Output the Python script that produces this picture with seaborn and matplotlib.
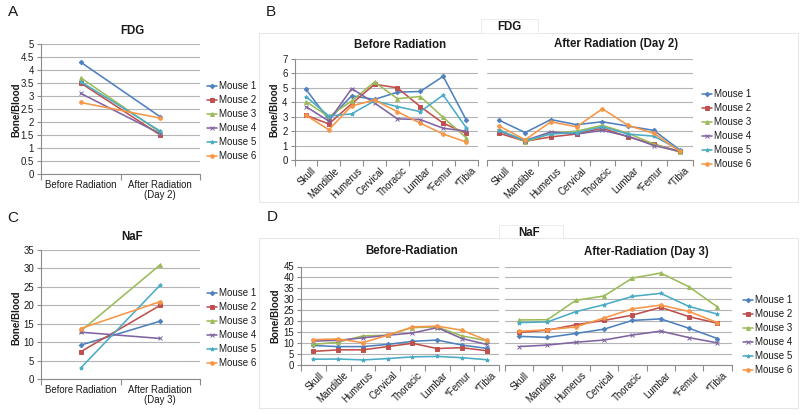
import matplotlib
matplotlib.use("Agg")
import matplotlib.pyplot as plt
import matplotlib.transforms as mtransforms
import seaborn as sns
import pandas as pd
import numpy as np
from matplotlib.lines import Line2D
from matplotlib.patches import Rectangle
from matplotlib.ticker import FuncFormatter, MultipleLocator

# ---------------- data ----------------
mice = ["Mouse 1", "Mouse 2", "Mouse 3", "Mouse 4", "Mouse 5", "Mouse 6"]

fdg_times = ["Before Radiation", "After Radiation\n(Day 2)"]
fdg_before = [4.3, 3.5, 3.7, 3.1, 3.55, 2.75]
fdg_after = [2.2, 1.5, 1.6, 1.55, 1.65, 2.15]

naf_times = ["Before Radiation", "After Radiation\n(Day 3)"]
naf_before = [9.2, 7.4, 13.0, 12.7, 3.0, 13.7]
naf_after = [15.7, 20.0, 31.0, 11.0, 25.5, 21.0]

bones = ["Skull", "Mandible", "Humerus", "Cervical", "Thoracic", "Lumbar", "*Femur", "*Tibia"]

# rows = mice, columns = bones
fdg_bone_before = [
    [4.9, 2.8, 4.45, 4.2, 4.7, 4.75, 5.8, 2.8],
    [3.1, 2.5, 3.9, 5.25, 5.0, 3.7, 2.55, 1.85],
    [4.05, 3.0, 4.1, 5.4, 4.25, 4.4, 2.95, 1.55],
    [3.7, 2.7, 4.95, 3.95, 2.85, 2.8, 2.2, 2.0],
    [4.4, 3.05, 3.2, 4.1, 3.7, 3.35, 4.5, 2.25],
    [3.1, 2.1, 3.75, 4.15, 3.35, 2.55, 1.8, 1.25],
]
fdg_bone_after = [
    [2.75, 1.9, 2.8, 2.45, 2.65, 2.35, 2.05, 0.7],
    [1.85, 1.3, 1.6, 1.8, 2.2, 1.6, 1.1, 0.6],
    [2.1, 1.25, 1.85, 2.0, 2.4, 1.85, 1.1, 0.55],
    [2.0, 1.35, 1.95, 1.8, 2.05, 1.65, 1.0, 0.6],
    [2.05, 1.35, 1.8, 1.9, 2.3, 1.8, 1.65, 0.7],
    [2.35, 1.4, 2.65, 2.3, 3.55, 2.4, 1.85, 0.6],
]
naf_bone_before = [
    [8.8, 8.3, 8.3, 9.3, 10.7, 11.3, 9.0, 7.5],
    [6.1, 6.8, 6.8, 8.3, 9.8, 7.4, 7.8, 6.4],
    [9.3, 10.3, 13.2, 13.5, 17.0, 17.3, 13.2, 11.0],
    [10.8, 11.2, 12.3, 13.5, 14.5, 17.0, 12.0, 9.3],
    [2.5, 2.6, 2.2, 2.8, 3.6, 3.8, 3.2, 2.3],
    [11.5, 11.8, 10.1, 13.5, 17.3, 17.7, 15.8, 11.2],
]
naf_bone_after = [
    [13.0, 12.5, 14.3, 16.3, 20.3, 21.0, 16.7, 12.0],
    [14.8, 15.8, 18.3, 20.3, 22.7, 26.3, 22.0, 19.0],
    [20.5, 20.6, 29.5, 31.5, 39.7, 42.0, 35.7, 26.5],
    [8.3, 9.0, 10.3, 11.3, 13.6, 15.4, 12.4, 10.0],
    [19.3, 19.6, 24.3, 27.5, 31.3, 32.7, 26.7, 23.2],
    [15.3, 16.0, 17.3, 21.4, 25.6, 27.3, 24.4, 19.3],
]

# ---------------- style ----------------
colors = ["#4F81BD", "#C0504D", "#9BBB59", "#8064A2", "#4BACC6", "#F79646"]
marks = ["D", "s", "^", "x", "*", "o"]
msizes = [2.3, 2.6, 2.8, 2.4, 2.8, 2.6]
pal = dict(zip(mice, colors))

sns.set_theme(style="white")
plt.rcParams["font.family"] = ["Liberation Sans", "DejaVu Sans"]

W, H = 800, 415
fig = plt.figure(figsize=(8, 4.15), dpi=100)
fig.patch.set_facecolor("white")

GRID = "#b4b4b4"
SPINE = "#8c8c8c"
TXT = "#1a1a1a"
TICKFS = 6.9


def fx(x):
    return x / W


def fy(y):
    return 1 - y / H


def add_ax(x0, y0, x1, y1):
    return fig.add_axes([fx(x0), fy(y1), (x1 - x0) / W, (y1 - y0) / H])


def long_df(cats, cols):
    # cols: one list per category, each list over mice
    recs = []
    for ci, c in enumerate(cats):
        for m, v in zip(mice, cols[ci]):
            recs.append((m, c, ci, v))
    return pd.DataFrame(recs, columns=["mouse", "cat", "pos", "value"])


def draw(ax, cats, df, ymax, ystep, ylabels=True, rotate=False):
    sns.lineplot(data=df, x="pos", y="value", hue="mouse", hue_order=mice,
                 palette=pal, sort=False, ax=ax, legend=False,
                 linewidth=1.15, marker="o")
    for ln, m, ms in zip(ax.lines, marks, msizes):
        ln.set_marker(m)
        ln.set_markeredgecolor(ln.get_color())
        ln.set_markerfacecolor(ln.get_color())
        ln.set_markeredgewidth(0.7)
        ln.set_markersize(ms)
    n = len(cats)
    ax.set_xlim(-0.5, n - 0.5)
    ax.set_ylim(0, ymax)
    ax.set_xlabel("")
    ax.set_ylabel("")
    ax.set_facecolor("none")
    for s in ["top", "right"]:
        ax.spines[s].set_visible(False)
    for s in ["left", "bottom"]:
        ax.spines[s].set_color(SPINE)
        ax.spines[s].set_linewidth(0.8)
    ax.yaxis.set_major_locator(MultipleLocator(ystep))
    ax.yaxis.set_major_formatter(FuncFormatter(lambda v, p: "%g" % v))
    ax.yaxis.grid(True, color=GRID, linewidth=0.8)
    ax.set_axisbelow(True)
    ax.set_xticks(range(n))
    ax.set_xticks(np.arange(-0.5, n, 1.0), minor=True)
    ax.tick_params(axis="x", which="major", length=0, pad=4,
                   labelsize=TICKFS, labelcolor=TXT)
    ax.tick_params(axis="x", which="minor", length=4, width=0.8,
                   color=SPINE, direction="out", bottom=True)
    ax.tick_params(axis="y", which="major", length=3, width=0.8,
                   color=SPINE, direction="out", left=True, pad=2,
                   labelsize=TICKFS, labelcolor=TXT)
    if rotate:
        ax.set_xticklabels(cats, rotation=45, ha="right",
                           rotation_mode="anchor")
        ax.tick_params(axis="x", which="major", pad=4)
        off = mtransforms.ScaledTranslation(5 / 100, 0, fig.dpi_scale_trans)
        for lab in ax.get_xticklabels():
            lab.set_transform(lab.get_transform() + off)
    else:
        ax.set_xticklabels(cats, linespacing=1.1)
    if not ylabels:
        ax.set_yticklabels([])
        ax.tick_params(axis="y", length=0)
        ax.spines["left"].set_visible(False)


def legend_at(x, ytop):
    handles = [Line2D([0], [0], color=c, marker=m, markersize=s,
                      markeredgecolor=c, markeredgewidth=0.7, lw=1.15)
               for c, m, s in zip(colors, marks, msizes)]
    fig.legend(handles, mice, loc="upper left",
               bbox_to_anchor=(fx(x), fy(ytop)), frameon=False,
               fontsize=7.0, handlelength=1.1, handletextpad=0.15,
               labelspacing=0.42, borderpad=0, borderaxespad=0,
               labelcolor=TXT)


def title(x, y, s, size=8.3):
    fig.text(fx(x), fy(y), s, ha="center", va="center", fontsize=size,
             fontweight="bold", color=TXT)


def ylab(x, y, s="Bone/Blood"):
    fig.text(fx(x), fy(y), s, ha="center", va="center", rotation=90,
             fontsize=7.0, fontweight="bold", color=TXT)


def letter(x, y, s):
    fig.text(fx(x), fy(y), s, ha="center", va="center", fontsize=11,
             color=TXT)


def box(x0, y0, x1, y1, col="#e6e6e6"):
    fig.patches.append(Rectangle((fx(x0), fy(y1)), (x1 - x0) / W,
                                 (y1 - y0) / H, transform=fig.transFigure,
                                 fill=False, edgecolor=col, lw=0.7))


# faint chart area borders
box(259, 33, 798, 202)
box(259, 238, 798, 408)
box(481, 19, 538, 33, "#ececec")
box(499, 225, 563, 238, "#ececec")

# ---------------- Panel A ----------------
axA = add_ax(41, 44, 200, 174)
dfA = long_df(fdg_times, [fdg_before, fdg_after])
draw(axA, fdg_times, dfA, 5, 0.5)
title(132, 30.5, "FDG")
ylab(16, 110)
letter(13, 12, "A")
legend_at(206.5, 81.0)

# ---------------- Panel C ----------------
axC = add_ax(41, 250, 200, 379)
dfC = long_df(naf_times, [naf_before, naf_after])
draw(axC, naf_times, dfC, 35, 5)
title(132, 236.5, "NaF")
ylab(16, 318)
letter(13, 218, "C")
legend_at(206.5, 288.0)

# ---------------- Panel B ----------------
axB1 = add_ax(294.5, 59, 477.5, 160)
dfB1 = long_df(bones, list(map(list, zip(*fdg_bone_before))))
draw(axB1, bones, dfB1, 7, 1, rotate=True)
axB2 = add_ax(486.5, 59, 692.5, 160)
dfB2 = long_df(bones, list(map(list, zip(*fdg_bone_after))))
draw(axB2, bones, dfB2, 7, 1, ylabels=False, rotate=True)
title(509, 26.5, "FDG")
title(400, 44.5, "Before Radiation")
title(616.5, 44.5, "After Radiation (Day 2)")
ylab(274, 110)
letter(271, 12, "B")
legend_at(701.5, 89.0)

# ---------------- Panel D ----------------
axD1 = add_ax(301, 266.5, 499, 364.7)
dfD1 = long_df(bones, list(map(list, zip(*naf_bone_before))))
draw(axD1, bones, dfD1, 45, 5, rotate=True)
axD2 = add_ax(505, 266.5, 731.5, 364.7)
dfD2 = long_df(bones, list(map(list, zip(*naf_bone_after))))
draw(axD2, bones, dfD2, 45, 5, ylabels=False, rotate=True)
title(529, 232.5, "NaF")
title(412, 251, "Before-Radiation")
title(646.5, 252, "After-Radiation (Day 3)")
ylab(275, 316)
letter(272, 217, "D")
legend_at(742.5, 295.0)

fig.savefig("out.png", dpi=100, facecolor="white")
